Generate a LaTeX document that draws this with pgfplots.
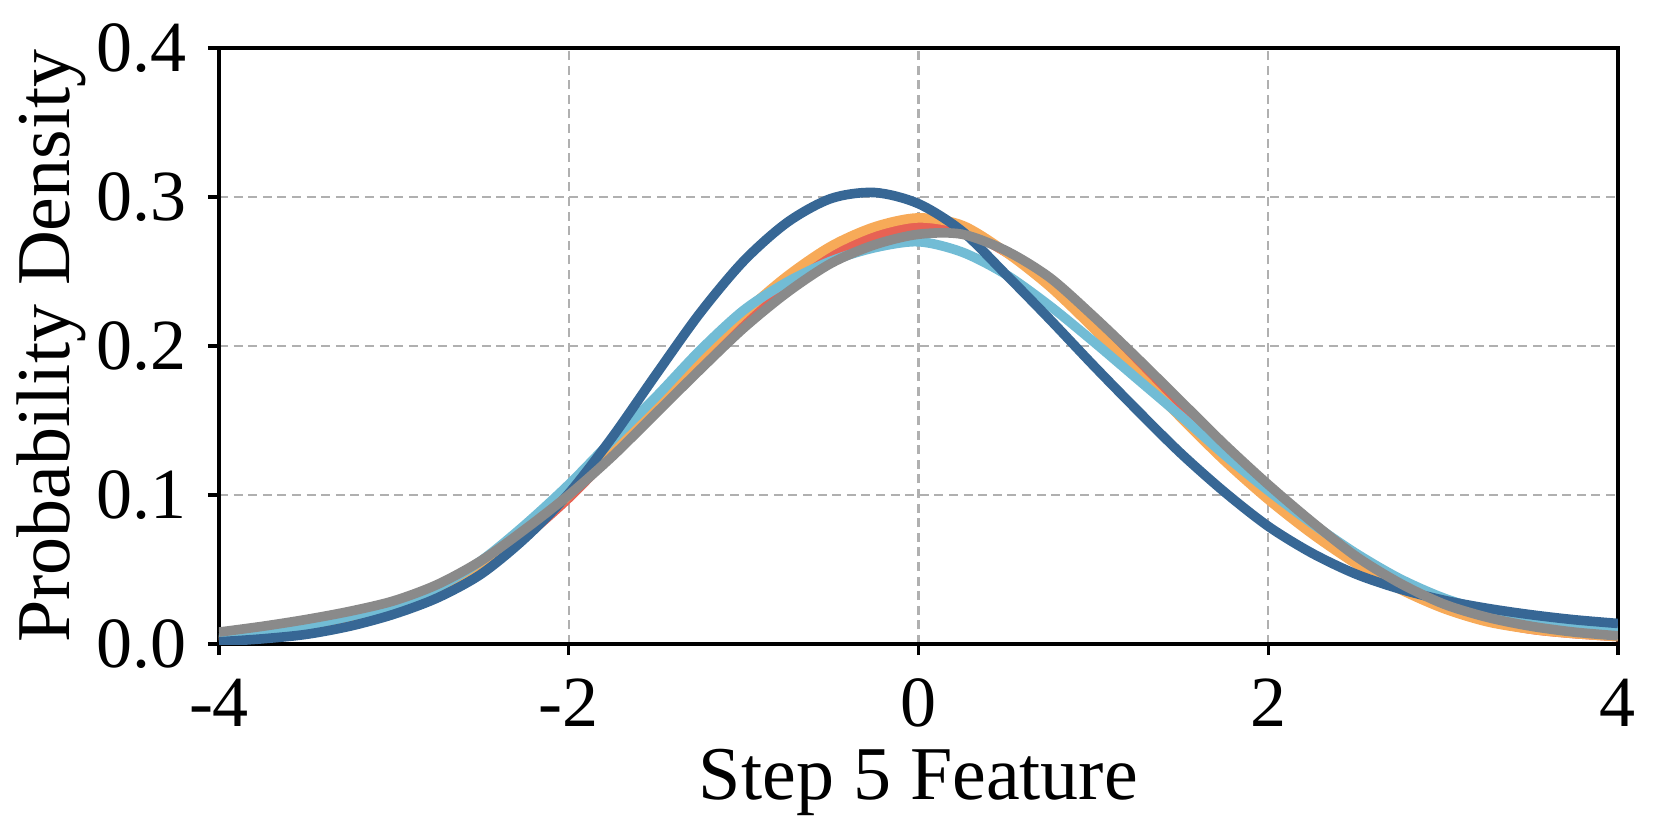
\documentclass[border=0pt]{standalone}
\usepackage{pgfplots}
\pgfplotsset{compat=1.18}
\usepackage{fontspec}
\setmainfont{Liberation Serif}
\definecolor{cred}{HTML}{E76254}
\definecolor{corange}{HTML}{F7AA58}
\definecolor{clight}{HTML}{72BCD5}
\definecolor{cdark}{HTML}{376795}
\definecolor{cgray}{HTML}{8A8A8A}
\definecolor{cgrid}{HTML}{B0B0B0}
\begin{document}
\begin{tikzpicture}
\useasboundingbox (-54.75pt,-48.75pt) rectangle (360.25pt,161pt);
\begin{axis}[
  at={(0pt,0pt)}, anchor=south west,
  scale only axis, width=349.75pt, height=149pt,
  xmin=-4, xmax=4, ymin=0, ymax=0.4,
  xtick={-4,-2,0,2,4}, xticklabels={-4,-2,0,2,4},
  ytick={0,0.1,0.2,0.3,0.4}, yticklabels={0.0,0.1,0.2,0.3,0.4},
  xtick pos=bottom, ytick pos=left,
  tick align=outside, major tick length=2.75pt,
  every tick/.style={black, line width=0.8pt},
  axis line style={black, line width=0.8pt},
  xmajorgrids, ymajorgrids,
  grid style={cgrid, line width=0.6pt, dash pattern=on 2.25pt off 1.4pt},
  ticklabel style={font=\fontsize{18}{20}\selectfont},
  xticklabel style={anchor=north, inner sep=0pt, yshift=-5.75pt},
  yticklabel style={anchor=east, inner sep=0pt, xshift=-5.25pt},
  label style={font=\fontsize{19}{22}\selectfont},
  xlabel={Step 5 Feature}, ylabel={Probability Density},
  xlabel style={at={(axis description cs:0.5,-0.2617)}, anchor=base},
  ylabel style={at={(axis description cs:-0.1072,0.5)}, anchor=base},
  every axis plot/.append style={line width=2.4pt, smooth, no markers},
]
% red
\addplot[cred] coordinates {
(-4,0.0025) (-3.75,0.005) (-3.5,0.009) (-3.25,0.015) (-3,0.022) (-2.75,0.033) (-2.5,0.049) (-2.25,0.072)
(-2,0.098) (-1.75,0.128) (-1.5,0.158) (-1.25,0.188) (-1,0.216) (-0.75,0.241) (-0.5,0.260) (-0.25,0.274)
(0,0.281) (0.25,0.278) (0.5,0.263) (0.75,0.243) (1,0.215) (1.25,0.186) (1.5,0.157) (1.75,0.128)
(2,0.101) (2.25,0.077) (2.5,0.056) (2.75,0.038) (3,0.025) (3.25,0.016) (3.5,0.010) (3.75,0.007) (4,0.005)};
% orange
\addplot[corange] coordinates {
(-4,0.0025) (-3.75,0.005) (-3.5,0.009) (-3.25,0.015) (-3,0.022) (-2.75,0.033) (-2.5,0.049) (-2.25,0.073)
(-2,0.100) (-1.75,0.132) (-1.5,0.163) (-1.25,0.193) (-1,0.222) (-0.75,0.247) (-0.5,0.267) (-0.25,0.280)
(0,0.286) (0.25,0.281) (0.5,0.263) (0.75,0.240) (1,0.212) (1.25,0.182) (1.5,0.152) (1.75,0.123)
(2,0.097) (2.25,0.074) (2.5,0.054) (2.75,0.037) (3,0.024) (3.25,0.015) (3.5,0.010) (3.75,0.007) (4,0.005)};
% light blue
\addplot[clight] coordinates {
(-4,0.004) (-3.75,0.0074) (-3.5,0.0125) (-3.25,0.0186) (-3,0.026) (-2.75,0.038) (-2.5,0.056) (-2.25,0.080)
(-2,0.107) (-1.75,0.137) (-1.5,0.166) (-1.25,0.197) (-1,0.224) (-0.75,0.243) (-0.5,0.257) (-0.25,0.266)
(0,0.270) (0.25,0.263) (0.5,0.248) (0.75,0.227) (1,0.203) (1.25,0.178) (1.5,0.153) (1.75,0.127)
(2,0.103) (2.25,0.081) (2.5,0.061) (2.75,0.044) (3,0.031) (3.25,0.022) (3.5,0.016) (3.75,0.012) (4,0.0095)};
% dark blue
\addplot[cdark] coordinates {
(-4,0.0015) (-3.75,0.0035) (-3.5,0.0065) (-3.25,0.012) (-3,0.020) (-2.75,0.031) (-2.5,0.047) (-2.25,0.071)
(-2,0.101) (-1.75,0.139) (-1.5,0.181) (-1.25,0.222) (-1,0.257) (-0.75,0.283) (-0.5,0.299) (-0.25,0.303)
(0,0.2955) (0.25,0.277) (0.5,0.248) (0.75,0.218) (1,0.187) (1.25,0.157) (1.5,0.128) (1.75,0.102)
(2,0.079) (2.25,0.061) (2.5,0.047) (2.75,0.037) (3,0.0295) (3.25,0.024) (3.5,0.0197) (3.75,0.0163) (4,0.0138)};
% gray
\addplot[cgray] coordinates {
(-4,0.008) (-3.75,0.0119) (-3.5,0.0165) (-3.25,0.022) (-3,0.029) (-2.75,0.040) (-2.5,0.056) (-2.25,0.077)
(-2,0.100) (-1.75,0.126) (-1.5,0.155) (-1.25,0.184) (-1,0.212) (-0.75,0.236) (-0.5,0.2555) (-0.25,0.268)
(0,0.275) (0.25,0.275) (0.5,0.264) (0.75,0.246) (1,0.220) (1.25,0.192) (1.5,0.163) (1.75,0.134)
(2,0.107) (2.25,0.082) (2.5,0.059) (2.75,0.041) (3,0.027) (3.25,0.018) (3.5,0.012) (3.75,0.008) (4,0.0055)};
\end{axis}
\end{tikzpicture}
\end{document}
